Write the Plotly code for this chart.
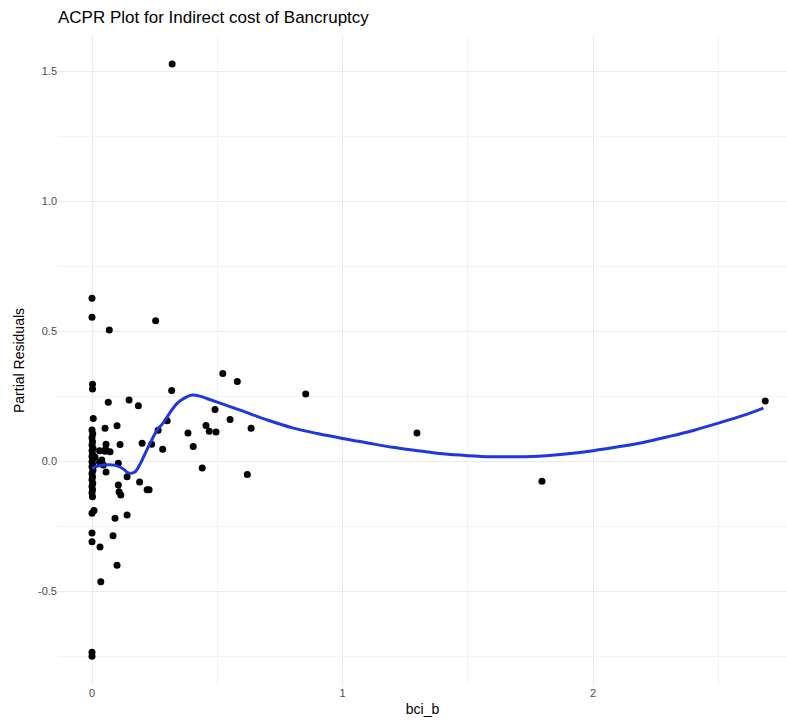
import plotly.graph_objects as go

# scatter points: bci_b vs partial residuals
pts_x = [0, 0, 0.069, 0.254, 0.32,
         0.002, 0.002, 0.318, 0.065, 0.148, 0.185,
         0.005, 0.052, 0.1,
         0, 0.003, 0, 0.002, 0, 0.004, 0, 0.002, 0, 0.003, 0, 0.002, 0, 0.004, 0, 0.002, 0, 0.003, 0, 0.002, 0, 0.002,
         0.056, 0.054, 0.112, 0.03, 0.052, 0.072, 0.012, 0.039, 0.03, 0.045, 0.056, 0.105, 0.14,
         0.2, 0.238, 0.264, 0.30, 0.282, 0.383, 0.19, 0.22, 0.228, 0.105, 0.108, 0.115,
         0.008, 0, 0.092, 0.14, 0, 0, 0.032, 0.084, 0.1, 0.035,
         0.522, 0.58, 0.853, 0.491, 0.551, 0.455, 0.468, 0.495, 0.635, 0.404, 0.44, 0.62,
         1.297, 1.796, 2.687, 0, 0]
pts_y = [0.626, 0.553, 0.504, 0.54, 1.527,
         0.296, 0.277, 0.272, 0.226, 0.235, 0.213,
         0.164, 0.126, 0.136,
         0.12, 0.105, 0.09, 0.075, 0.062, 0.05, 0.04, 0.028, 0.018, 0.008, -0.002, -0.012, -0.022, -0.035, -0.048, -0.06, -0.072, -0.085, -0.098, -0.11, -0.122, -0.137,
         0.065, 0.046, 0.064, 0.04, 0.038, 0.036, 0.016, 0.004, -0.004, -0.015, -0.042, -0.008, -0.06,
         0.069, 0.065, 0.119, 0.155, 0.046, 0.108, -0.08, -0.11, -0.11, -0.092, -0.118, -0.13,
         -0.19, -0.2, -0.22, -0.207, -0.276, -0.31, -0.33, -0.287, -0.4, -0.464,
         0.337, 0.306, 0.258, 0.199, 0.16, 0.137, 0.115, 0.112, 0.126, 0.056, -0.026, -0.051,
         0.108, -0.077, 0.231, -0.735, -0.75]

# loess smooth curve
smooth_x = [0, 0.02, 0.045, 0.07, 0.1, 0.125, 0.145, 0.17, 0.19, 0.21, 0.235, 0.26, 0.285, 0.31,
            0.34, 0.37, 0.4, 0.43, 0.46, 0.5, 0.6, 0.7, 0.8, 0.9, 1.0, 1.1, 1.2, 1.3, 1.4, 1.5,
            1.6, 1.7, 1.8, 1.9, 2.0, 2.1, 2.2, 2.3, 2.4, 2.5, 2.6, 2.68]
smooth_y = [-0.028, -0.02, -0.015, -0.014, -0.018, -0.03, -0.045, -0.043, -0.015, 0.025, 0.075, 0.119, 0.148, 0.185,
            0.222, 0.243, 0.254, 0.25, 0.24, 0.227, 0.193, 0.158, 0.128, 0.106, 0.087, 0.07, 0.053, 0.04, 0.028, 0.021,
            0.017, 0.017, 0.02, 0.028, 0.04, 0.055, 0.072, 0.094, 0.118, 0.146, 0.176, 0.204]

x_ticks = [0, 1, 2]
y_ticks = [-0.5, 0.0, 0.5, 1.0, 1.5]
y_tick_text = ["-0.5", "0.0", "0.5", "1.0", "1.5"]

fig = go.Figure()
fig.add_trace(go.Scatter(x=pts_x, y=pts_y, mode="markers",
                         marker=dict(color="black", size=7, line=dict(width=0)),
                         showlegend=False, hoverinfo="x+y"))
fig.add_trace(go.Scatter(x=smooth_x, y=smooth_y, mode="lines",
                         line=dict(color="#1f36e0", width=3, shape="spline"),
                         showlegend=False))

fig.update_layout(
    width=787, height=724,
    paper_bgcolor="white", plot_bgcolor="white",
    margin=dict(l=58, r=0, t=36, b=39),
    font=dict(family="Liberation Sans, Arial, sans-serif", color="#4d4d4d"),
    title=dict(text="ACPR Plot for Indirect cost of Bancruptcy",
               x=58 / 787, xanchor="left", y=1 - 17 / 724, yanchor="middle",
               font=dict(size=17, color="black")),
    xaxis=dict(range=[-0.1357, 2.774], tickvals=x_ticks, ticktext=[str(v) for v in x_ticks],
               showgrid=True, gridcolor="#ebebeb", gridwidth=1, zeroline=False,
               showline=False, ticks="", tickfont=dict(size=11, color="#4d4d4d"),
               minor=dict(tickvals=[0.5, 1.5, 2.5], showgrid=True, gridcolor="#f3f3f3", gridwidth=1),
               title=dict(text="bci_b", font=dict(size=14, color="black"), standoff=6)),
    yaxis=dict(range=[-0.861, 1.635], tickvals=y_ticks, ticktext=y_tick_text,
               showgrid=True, gridcolor="#ebebeb", gridwidth=1, zeroline=False,
               showline=False, ticks="", tickfont=dict(size=11, color="#4d4d4d"),
               minor=dict(tickvals=[-0.75, -0.25, 0.25, 0.75, 1.25], showgrid=True, gridcolor="#f3f3f3", gridwidth=1),
               title=dict(text="Partial Residuals", font=dict(size=14, color="black"), standoff=10)),
)

fig.write_html("out.html")
